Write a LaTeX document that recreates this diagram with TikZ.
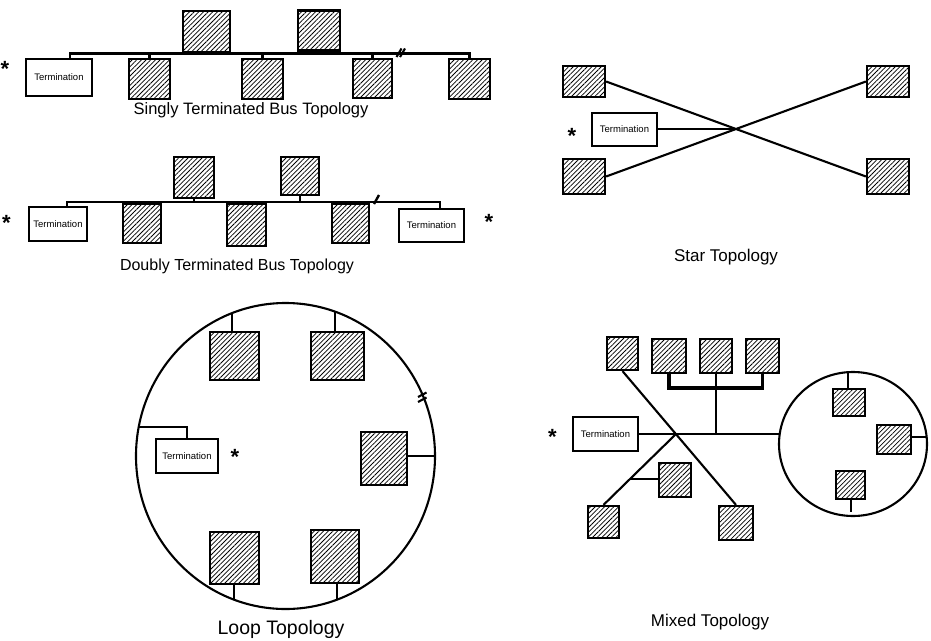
\documentclass[tikz,border=0pt]{standalone}
\usepackage{fontspec}
\setmainfont{Liberation Sans}
\usetikzlibrary{patterns.meta,calc}
\tikzset{
  hbox/.style={draw, line width=2.2pt, pattern={Lines[angle=45,distance=3.3pt,line width=0.75pt]}, inner sep=0pt},
  tbox/.style={draw, line width=2pt, fill=white, inner sep=0pt, font=\fontsize{9.5}{11}\selectfont},
  wire/.style={line width=2.1pt},
  captxt/.style={inner sep=0pt, font=\fontsize{16.5}{19}\selectfont},
  bigcap/.style={inner sep=0pt, anchor=base, font=\fontsize{19.5}{22}\selectfont},
  asterisk/.style={inner sep=0pt, anchor=base, font=\fontsize{22}{24}\selectfont\bfseries}
}
\newcommand\hatchbox[5]{\node[hbox, minimum width=#4pt, minimum height=#5pt] (#1) at (#2,#3) {};}
\newcommand\termbox[5]{\node[tbox, minimum width=#4pt, minimum height=#5pt] (#1) at (#2,#3) {Termination};}
\begin{document}
\begin{tikzpicture}[x=1pt,y=-1pt]
\useasboundingbox (0,0) rectangle (931,640);

% ---------------- Singly terminated bus ----------------
\hatchbox{sa1}{206.5}{31.5}{47}{41}
\hatchbox{sa2}{319}{30.5}{42}{40}
\hatchbox{sb1}{149.5}{79}{41}{40}
\hatchbox{sb2}{262.5}{79}{41}{40}
\hatchbox{sb3}{372.5}{78.5}{39}{39}
\hatchbox{sb4}{469.5}{79}{41}{40}
\termbox{st}{59}{77.5}{66}{37}
\coordinate (sbL) at (70,53.5);
\coordinate (sbR) at (469.5,53.5);
\draw[wire] (sbL |- st.north) -- (sbL) -- (sbR) -- (sb4.north);
\foreach \n in {sa1,sa2} \draw[wire] (\n.south) -- (\n.south |- sbL);
\foreach \n in {sb1,sb2,sb3} \draw[wire] (\n.north) -- (\n.north |- sbL);
\draw[wire] (396.5,57) -- (401.5,48.5);
\draw[wire] (400,57) -- (405,48.5);
\node[asterisk] (as1) at (5,76) {*};
\node[captxt] (cap1) at (251,110) {Singly Terminated Bus Topology};

% ---------------- Doubly terminated bus ----------------
\hatchbox{da1}{194}{177.5}{40}{41}
\hatchbox{da2}{300}{176}{38}{38}
\hatchbox{db1}{142}{223.5}{38}{39}
\hatchbox{db2}{246.5}{225}{39}{42}
\hatchbox{db3}{350.5}{223.5}{37}{39}
\termbox{dt1}{58}{224}{58}{34}
\termbox{dt2}{431.5}{225.5}{65}{33}
\coordinate (dbL) at (67,201.7);
\coordinate (dbR) at (440,201.7);
\draw[wire] (dbL |- dt1.north) -- (dbL) -- (dbR) -- (dbR |- dt2.north);
\foreach \n in {da1,da2} \draw[wire] (\n.south) -- (\n.south |- dbL);
\foreach \n in {db1,db2,db3} \draw[wire] (\n.north) -- (\n.north |- dbL);
\draw[line width=2.4pt] (374,204) -- (379,195);
\node[asterisk] (as2) at (6.5,230) {*};
\node[asterisk] (as3) at (489,229.5) {*};
\node[captxt, font=\fontsize{16}{19}\selectfont] (cap2) at (237,266) {Doubly Terminated Bus Topology};

% ---------------- Star ----------------
\hatchbox{sTL}{584}{81.5}{42}{31}
\hatchbox{sBL}{584}{176.5}{42}{35}
\hatchbox{sTR}{888}{81.5}{42}{31}
\hatchbox{sBR}{888}{176.5}{42}{35}
\termbox{sT}{624.5}{129}{65}{33}
\coordinate (sc) at (736,129);
\draw[wire] (sTL.east) -- (sBR.west);
\draw[wire] (sBL.east) -- (sTR.west);
\draw[wire] (sT.east) -- (sc);
\node[asterisk] (as4) at (572,143) {*};
\node[captxt, font=\fontsize{17}{20}\selectfont] (cap3) at (726,257) {Star Topology};

% ---------------- Loop ----------------
\draw[wire] (285.5,456) ellipse [x radius=149.5pt, y radius=153pt];
\hatchbox{L1}{234.5}{356}{49}{48}
\hatchbox{L2}{337.5}{356}{53}{48}
\hatchbox{L3}{384}{458.5}{46}{53}
\hatchbox{L4}{234.5}{558}{49}{52}
\hatchbox{L5}{335}{556.5}{48}{53}
\termbox{Lt}{187}{456}{62}{34}
\coordinate (lc1) at (232,313.1);
\coordinate (lc2) at (335,311.6);
\coordinate (lc3) at (435,456);
\coordinate (lc4) at (234,599.6);
\coordinate (lc5) at (337,599.6);
\coordinate (lc6) at (138.7,427);
\draw[wire] (lc1 |- L1.north) -- (lc1);
\draw[wire] (lc2 |- L2.north) -- (lc2);
\draw[wire] (L3.east |- lc3) -- (lc3);
\draw[wire] (lc4 |- L4.south) -- (lc4);
\draw[wire] (lc5 |- L5.south) -- (lc5);
\draw[wire] (lc6) -| (Lt.north);
\draw[wire] (418,397) -- (426.5,392.5);
\draw[wire] (418,402) -- (426.5,397.5);
\node[asterisk] (as5) at (235,464.5) {*};
\node[bigcap] (cap4) at (281,634) {Loop Topology};

% ---------------- Mixed ----------------
\draw[wire] (853,444) ellipse [x radius=74pt, y radius=72pt];
\hatchbox{M0}{622.5}{353.5}{31}{33}
\hatchbox{M1}{669}{356}{34}{34}
\hatchbox{M2}{716}{356}{32}{34}
\hatchbox{M3}{762.5}{356}{33}{34}
\hatchbox{Ms}{675}{480}{32}{34}
\hatchbox{Mb1}{603.5}{522}{31}{32}
\hatchbox{Mb2}{736}{523}{34}{34}
\hatchbox{Mi1}{849}{402.5}{32}{27}
\hatchbox{Mi2}{894}{439.5}{34}{29}
\hatchbox{Mi3}{850.5}{485}{29}{28}
\termbox{Mt}{605.5}{434}{65}{34}
\coordinate (mx) at (676,434);
\coordinate (mcl) at (779.7,434);
\coordinate (mbk) at (716,388);
\draw[wire] (Mt.east) -- (mx) -- (mcl);
\draw[wire] (M0.south) -- (Mb2.north);
\draw[wire] (mx) -- (Mb1.north);
\coordinate (mbr) at ($(mx)!0.64!(Mb1.north)$);
\draw[wire] (mbr) -- (mbr -| Ms.west);
\draw[wire] (M2.south) -- (M2.south |- mx);
\draw[line width=3.8pt] (M1.south) |- (mbk) -| (M3.south);
\coordinate (mi1c) at (848,372.2);
\coordinate (mi2c) at (926.6,437);
\coordinate (mi3c) at (851,512);
\draw[wire] (mi1c |- Mi1.north) -- (mi1c);
\draw[wire] (Mi2.east |- mi2c) -- (mi2c);
\draw[wire] (mi3c |- Mi3.south) -- (mi3c);
\node[asterisk] (as6) at (552.5,444.5) {*};
\node[captxt, font=\fontsize{17}{20}\selectfont] (cap5) at (710,622) {Mixed Topology};
\end{tikzpicture}
\end{document}
